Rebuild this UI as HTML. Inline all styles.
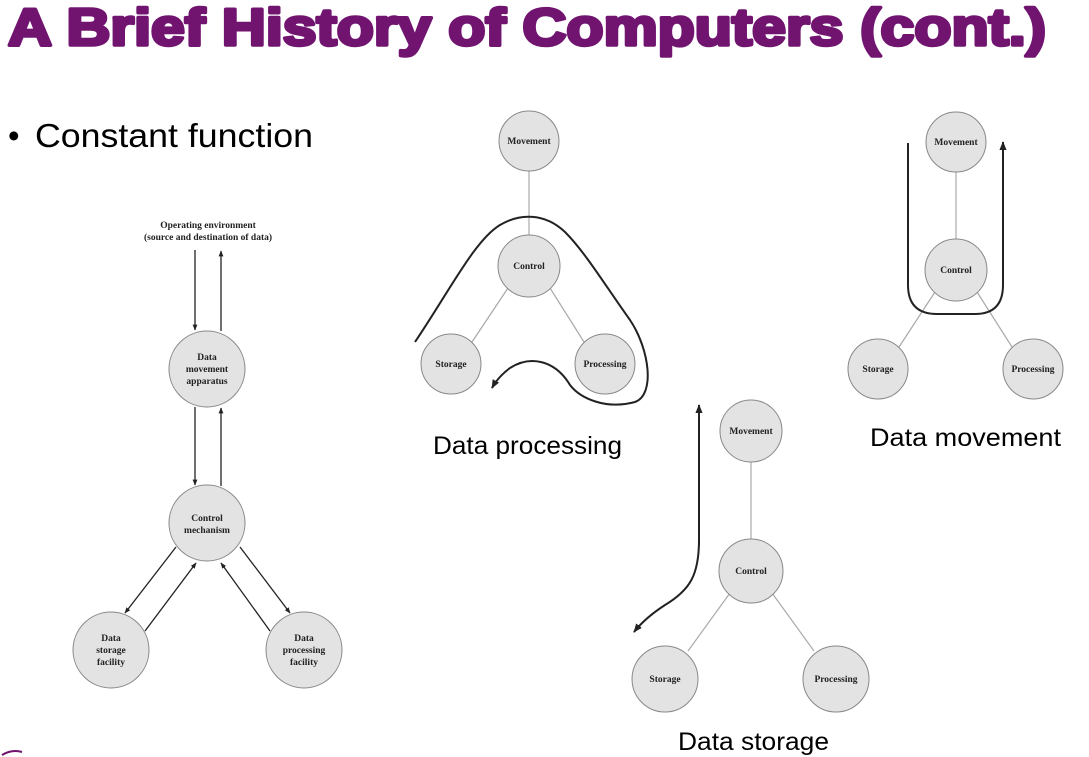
<!DOCTYPE html>
<html><head><meta charset="utf-8"><style>
html,body{margin:0;padding:0;background:#fff;}
svg{display:block}
.n{fill:#e3e3e3;stroke:#888;stroke-width:1}
.t{font-family:"Liberation Serif",serif;font-weight:bold;font-size:9.5px;fill:#222;text-anchor:middle}
.g{stroke:#aaa;stroke-width:1.2;fill:none}
.a{stroke:#222;stroke-width:1.3;fill:none}
.c{stroke:#222;stroke-width:2;fill:none}
.lab{font-family:"Liberation Sans",sans-serif;font-size:25px;fill:#000}
</style></head><body>
<svg width="1089" height="757" viewBox="0 0 1089 757" xmlns="http://www.w3.org/2000/svg">
<defs>
<marker id="ah" viewBox="0 0 10 10" refX="9" refY="5" markerWidth="6" markerHeight="6" orient="auto-start-reverse" markerUnits="userSpaceOnUse"><path d="M0,1 L10,5 L0,9 z" fill="#222"/></marker>
<marker id="ah2" viewBox="0 0 10 10" refX="9" refY="5" markerWidth="9" markerHeight="9" orient="auto" markerUnits="userSpaceOnUse"><path d="M0,1 L10,5 L0,9 z" fill="#222"/></marker>
</defs>
<text x="8" y="45" font-family="'Liberation Sans',sans-serif" font-weight="bold" font-size="52" fill="#701470" stroke="#701470" stroke-width="3.5" stroke-linejoin="round" textLength="1038" lengthAdjust="spacingAndGlyphs">A Brief History of Computers (cont.)</text>
<text x="8" y="147" font-family="'Liberation Sans',sans-serif" font-size="33" fill="#000">•</text>
<text x="35" y="147" font-family="'Liberation Sans',sans-serif" font-size="33" fill="#000" textLength="278" lengthAdjust="spacingAndGlyphs">Constant function</text>
<path d="M2,755 Q12,749 22,752" stroke="#701470" stroke-width="2" fill="none"/>

<!-- left diagram -->
<text class="t" x="208" y="228">Operating environment</text>
<text class="t" x="208" y="240">(source and destination of data)</text>
<line class="a" x1="195" y1="250" x2="195" y2="330" marker-end="url(#ah)"/>
<line class="a" x1="221" y1="331" x2="221" y2="251" marker-end="url(#ah)"/>
<circle class="n" cx="207" cy="369" r="38"/>
<text class="t" x="207" y="360">Data</text><text class="t" x="207" y="372">movement</text><text class="t" x="207" y="384">apparatus</text>
<line class="a" x1="195" y1="407" x2="195" y2="485" marker-end="url(#ah)"/>
<line class="a" x1="221" y1="486" x2="221" y2="408" marker-end="url(#ah)"/>
<circle class="n" cx="207" cy="523" r="38"/>
<text class="t" x="207" y="521">Control</text><text class="t" x="207" y="533">mechanism</text>
<line class="a" x1="176" y1="547" x2="125" y2="613" marker-end="url(#ah)"/>
<line class="a" x1="145" y1="631" x2="196" y2="563" marker-end="url(#ah)"/>
<line class="a" x1="270" y1="631" x2="221" y2="563" marker-end="url(#ah)"/>
<line class="a" x1="240" y1="547" x2="290" y2="613" marker-end="url(#ah)"/>
<circle class="n" cx="111" cy="650" r="38"/>
<text class="t" x="111" y="641">Data</text><text class="t" x="111" y="653">storage</text><text class="t" x="111" y="665">facility</text>
<circle class="n" cx="304" cy="650" r="38"/>
<text class="t" x="304" y="641">Data</text><text class="t" x="304" y="653">processing</text><text class="t" x="304" y="665">facility</text>

<!-- Data processing -->
<line class="g" x1="529" y1="170" x2="529" y2="235"/>
<line class="g" x1="508" y1="288" x2="472" y2="342"/>
<line class="g" x1="550" y1="288" x2="584" y2="342"/>
<circle class="n" cx="529" cy="141" r="30"/>
<text class="t" x="529" y="144">Movement</text>
<circle class="n" cx="529" cy="266" r="31"/>
<text class="t" x="529" y="269">Control</text>
<circle class="n" cx="451" cy="364" r="30"/>
<text class="t" x="451" y="367">Storage</text>
<circle class="n" cx="605" cy="364" r="30"/>
<text class="t" x="605" y="367">Processing</text>
<path class="c" d="M415,342 C450,290 475,240 500,225 C520,213 545,213 565,232 C585,252 605,285 630,320 C650,350 655,395 635,402 C605,410 580,398 570,385 C555,360 530,355 510,368 Q498,377 492,388" marker-end="url(#ah2)"/>
<text class="lab" x="433" y="454" textLength="189" lengthAdjust="spacingAndGlyphs">Data processing</text>

<!-- Data movement -->
<line class="g" x1="956" y1="172" x2="956" y2="239"/>
<line class="g" x1="935" y1="292" x2="899" y2="347"/>
<line class="g" x1="977" y1="292" x2="1012" y2="347"/>
<circle class="n" cx="956" cy="142" r="30"/>
<text class="t" x="956" y="145">Movement</text>
<circle class="n" cx="956" cy="270" r="31"/>
<text class="t" x="956" y="273">Control</text>
<circle class="n" cx="878" cy="369" r="30"/>
<text class="t" x="878" y="372">Storage</text>
<circle class="n" cx="1033" cy="369" r="30"/>
<text class="t" x="1033" y="372">Processing</text>
<path class="c" d="M908,143 L908,285 Q908,314 937,314 L975,314 Q1003,314 1003,285 L1003,142" marker-end="url(#ah2)"/>
<text class="lab" x="870" y="446" textLength="191" lengthAdjust="spacingAndGlyphs">Data movement</text>

<!-- Data storage -->
<line class="g" x1="751" y1="461" x2="751" y2="540"/>
<line class="g" x1="730" y1="593" x2="688" y2="651"/>
<line class="g" x1="772" y1="593" x2="814" y2="651"/>
<circle class="n" cx="751" cy="431" r="31"/>
<text class="t" x="751" y="434">Movement</text>
<circle class="n" cx="751" cy="571" r="32"/>
<text class="t" x="751" y="574">Control</text>
<circle class="n" cx="665" cy="679" r="33"/>
<text class="t" x="665" y="682">Storage</text>
<circle class="n" cx="836" cy="679" r="33"/>
<text class="t" x="836" y="682">Processing</text>
<path class="c" d="M699,545 L699,520 L699,405" marker-end="url(#ah2)"/>
<path class="c" d="M699,540 C699,575 690,590 665,605 Q645,618 634,632" marker-end="url(#ah2)"/>
<text class="lab" x="678" y="750" textLength="151" lengthAdjust="spacingAndGlyphs">Data storage</text>
</svg>
</body></html>
